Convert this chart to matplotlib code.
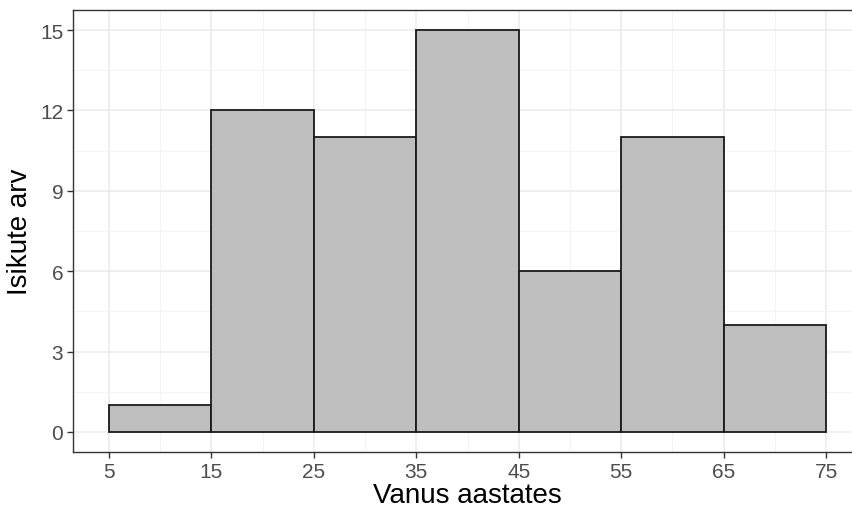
import matplotlib
matplotlib.use("Agg")
import matplotlib.pyplot as plt
import numpy as np

# Age-group histogram (counts per 10-year bin)
bin_edges = [5, 15, 25, 35, 45, 55, 65, 75]
counts = [1, 12, 11, 15, 6, 11, 4]
x_ticks = [5, 15, 25, 35, 45, 55, 65, 75]
y_ticks = [0, 3, 6, 9, 12, 15]

plt.rcParams['font.family'] = ['Liberation Sans', 'DejaVu Sans']

fig = plt.figure(figsize=(8.52, 5.10), dpi=100)
W, H = 852, 510
left, right, top, bottom = 73, 862, 11, 453
ax = fig.add_axes([left / W, (H - bottom) / H, (right - left) / W, (bottom - top) / H])

edges = np.array(bin_edges, dtype=float)
ax.bar(edges[:-1], counts, width=np.diff(edges), align='edge',
       color='#BEBEBE', edgecolor='#1a1a1a', linewidth=1.3, zorder=3)

xr = edges[-1] - edges[0]
ax.set_xlim(edges[0] - 0.05 * xr, edges[-1] + 0.05 * xr)
ymax = max(counts)
ax.set_ylim(-0.05 * ymax, ymax * 1.05)

ax.set_xticks(x_ticks)
ax.set_yticks(y_ticks)
ax.set_xticks([(a + b) / 2 for a, b in zip(x_ticks[:-1], x_ticks[1:])], minor=True)
ax.set_yticks([(a + b) / 2 for a, b in zip(y_ticks[:-1], y_ticks[1:])], minor=True)

ax.grid(which='major', color='#EBEBEB', linewidth=1.1, zorder=0)
ax.grid(which='minor', color='#F2F2F2', linewidth=0.6, zorder=0)
ax.set_axisbelow(True)

for s in ax.spines.values():
    s.set_color('#333333')
    s.set_linewidth(1.0)

ax.tick_params(which='major', length=4, width=1.0, color='#333333',
               labelsize=15, labelcolor='#4D4D4D', pad=3)
ax.tick_params(which='minor', length=0)

ax.set_xlabel('Vanus aastates', fontsize=20, color='black', labelpad=1)
ax.set_ylabel('Isikute arv', fontsize=20, color='black', labelpad=5)

fig.savefig('out.png', dpi=100, facecolor='white')
